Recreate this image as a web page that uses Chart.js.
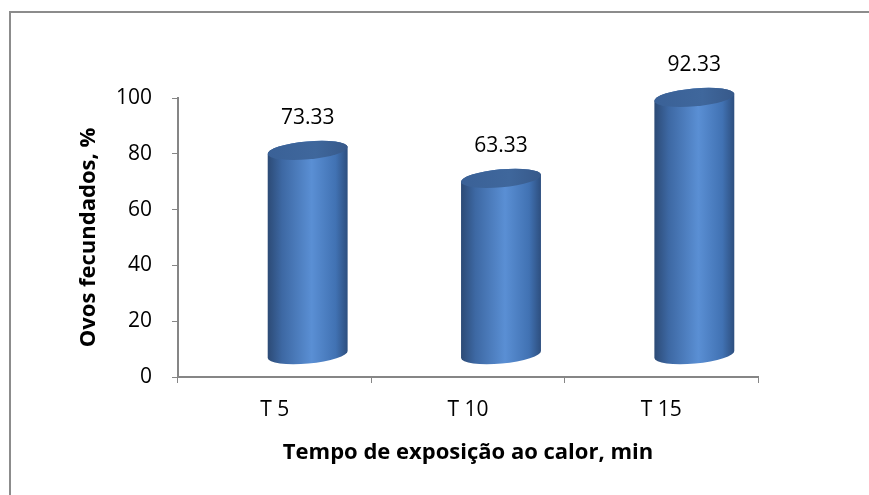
<!DOCTYPE html>
<html>
<head>
<meta charset="utf-8">
<script src="https://cdn.jsdelivr.net/npm/chart.js@4.4.1/dist/chart.umd.min.js"></script>
<style>
  html, body { margin: 0; padding: 0; background: #fff; }
  #wrap { position: relative; width: 869px; height: 495px; }
</style>
</head>
<body>
<div id="wrap"><canvas id="myChart" width="869" height="495"></canvas></div>
<script>
'use strict';
// chart data
let categories = ['T 5', 'T 10', 'T 15'];
let fecundados = [73.33, 63.33, 92.33];
let labelText = ['73.33', '63.33', '92.33'];
let yTicks = [0, 20, 40, 60, 80, 100];

let fontName = '"Open Sans", "Noto Sans", sans-serif';

// depth shift of the 3d cylinders
let depthX = 33;
let depthY = -22;

let frame = {
    id: 'frame',
    beforeDraw(chart) {
        let ctx = chart.ctx;
        ctx.save();
        ctx.fillStyle = '#fff';
        ctx.fillRect(0, 0, chart.width, chart.height);
        ctx.strokeStyle = '#8c8c8c';
        ctx.lineWidth = 2;
        ctx.beginPath();
        ctx.moveTo(10, chart.height);
        ctx.lineTo(10, 12);
        ctx.lineTo(chart.width, 12);
        ctx.stroke();
        ctx.restore();
    }
};

let cylinders = {
    id: 'cylinders',
    afterDatasetsDraw(chart) {
        let ctx = chart.ctx;
        let meta = chart.getDatasetMeta(0);
        meta.data.forEach(function (bar, i) {
            let cx = bar.x + depthX;
            let rx = bar.width / 2;
            let ry = 9;
            let rot = -0.09;
            let topY = bar.y + depthY;
            let botY = bar.base + depthY;

            ctx.save();
            // body
            let grad = ctx.createLinearGradient(cx - rx, 0, cx + rx, 0);
            grad.addColorStop(0, '#2c4a75');
            grad.addColorStop(0.18, '#3d68a3');
            grad.addColorStop(0.55, '#5a8fd4');
            grad.addColorStop(0.85, '#4172b3');
            grad.addColorStop(1, '#2d4e7e');
            ctx.beginPath();
            ctx.ellipse(cx, topY, rx, ry, rot, Math.PI, 2 * Math.PI, false);
            ctx.ellipse(cx, botY, rx, ry, rot, 0, Math.PI, false);
            ctx.closePath();
            ctx.fillStyle = grad;
            ctx.fill();

            // top cap
            let capGrad = ctx.createLinearGradient(cx - rx, topY, cx + rx, topY);
            capGrad.addColorStop(0, '#3a6197');
            capGrad.addColorStop(0.6, '#3f679c');
            capGrad.addColorStop(1, '#37598a');
            ctx.beginPath();
            ctx.ellipse(cx, topY, rx, ry, rot, 0, 2 * Math.PI);
            ctx.fillStyle = capGrad;
            ctx.fill();

            // value label
            ctx.fillStyle = '#000';
            ctx.font = '21px ' + fontName;
            ctx.textAlign = 'center';
            ctx.textBaseline = 'middle';
            ctx.fillText(labelText[i], cx, topY - 32);
            ctx.restore();
        });
    }
};

let ctx = document.getElementById('myChart').getContext('2d');

let myChart = new Chart(ctx, {
    type: 'bar',
    data: {
        labels: categories,
        datasets: [{
            label: 'Ovos fecundados',
            data: fecundados,
            backgroundColor: 'rgba(0,0,0,0)',
            borderWidth: 0,
            categoryPercentage: 1,
            barPercentage: 0.415
        }]
    },
    options: {
        responsive: false,
        animation: false,
        devicePixelRatio: 1,
        layout: {
            padding: { left: 0, top: 98, right: 111, bottom: 0 }
        },
        plugins: {
            legend: { display: false },
            tooltip: { enabled: false }
        },
        scales: {
            x: {
                afterFit(scale) { scale.height = 118; },
                grid: {
                    drawOnChartArea: false,
                    drawTicks: true,
                    tickLength: 6,
                    color: '#868686',
                    offset: true
                },
                border: { display: true, color: '#868686', width: 2 },
                ticks: {
                    color: '#000',
                    padding: 14,
                    font: { family: fontName, size: 21 }
                },
                title: {
                    display: true,
                    text: 'Tempo de exposição ao calor, min',
                    color: '#000',
                    padding: { top: 8, bottom: 29 },
                    font: { family: fontName, size: 22, weight: 'bold' }
                }
            },
            y: {
                min: 0,
                max: 100,
                afterFit(scale) { scale.width = 178; },
                afterBuildTicks(scale) {
                    scale.ticks = yTicks.map(function (v) { return { value: v }; });
                },
                grid: {
                    drawOnChartArea: false,
                    drawTicks: true,
                    tickLength: 6,
                    color: '#868686'
                },
                border: { display: true, color: '#868686', width: 2 },
                ticks: {
                    color: '#000',
                    padding: 20,
                    font: { family: fontName, size: 21 }
                },
                title: {
                    display: true,
                    text: 'Ovos fecundados, %',
                    color: '#000',
                    padding: { top: 76, bottom: 0 },
                    font: { family: fontName, size: 22, weight: 'bold' }
                }
            }
        }
    },
    plugins: [frame, cylinders]
});
</script>
</body>
</html>
